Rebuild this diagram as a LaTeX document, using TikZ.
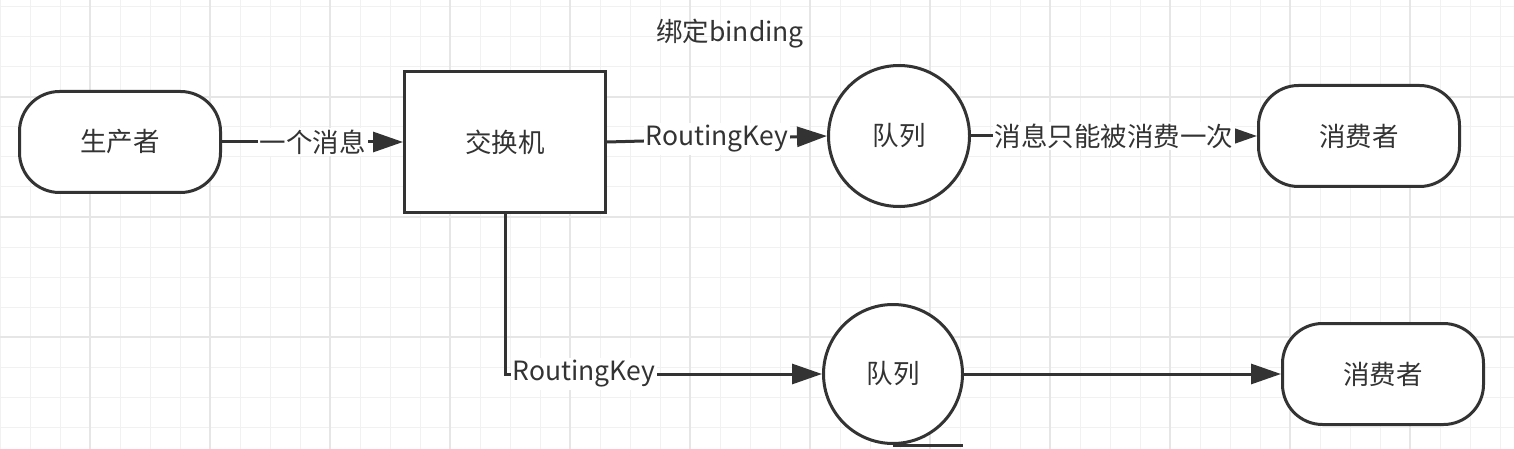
\documentclass[tikz,border=0pt]{standalone}
\usepackage{fontspec}
\setmainfont{Noto Sans CJK SC}
\usetikzlibrary{arrows.meta}
\definecolor{ink}{HTML}{333333}
\definecolor{gridminor}{HTML}{F1F1F1}
\definecolor{gridmajor}{HTML}{E6E6E6}
\begin{document}
\begin{tikzpicture}[x=1pt,y=-1pt,
  every node/.style={font=\fontsize{26.5}{31}\selectfont, text=ink},
  shapeline/.style={draw=ink, line width=3pt, fill=white},
  term/.style={shapeline, rectangle, rounded corners=40pt, minimum width=201pt, minimum height=101pt, inner sep=0pt},
  boxnode/.style={shapeline, rectangle, minimum width=201pt, minimum height=140pt, inner sep=0pt},
  queue/.style={shapeline, circle, inner sep=0pt},
  conn/.style={draw=ink, line width=3pt},
  arr/.style={conn, -{Triangle[length=30pt,width=20pt]}},
  lbl/.style={fill=white, inner sep=2pt}
]
\useasboundingbox (0,0) rectangle (1514,449);
\fill[white] (0,0) rectangle (1514,449);
% grid
\foreach \x in {0,30,...,1500} {\draw[gridminor, line width=1pt] (\x,0) -- (\x,449);}
\foreach \y in {7,37,...,447} {\draw[gridminor, line width=1pt] (0,\y) -- (1514,\y);}
\foreach \x in {90,210,...,1500} {\draw[gridmajor, line width=1.2pt] (\x,0) -- (\x,449);}
\foreach \y in {97,217,337} {\draw[gridmajor, line width=1.2pt] (0,\y) -- (1514,\y);}

\node[term] (prod) at (120,142) {生产者};
\node[boxnode] (ex) at (505,142) {交换机};
\node[queue, minimum size=141pt] (q1) at (899,136) {队列};
\node[term] (c1) at (1359,136) {消费者};
\node[queue, minimum size=139pt] (q2) at (893,374) {队列};
\node[term] (c2) at (1383,374) {消费者};
\node (bind) at (730,34) {绑定binding};

\draw[arr] (prod) -- node[lbl] {一个消息} (ex);
\draw[arr] (ex.east) -- node[lbl] {RoutingKey} (q1.west);
\draw[arr] (q1) -- node[lbl] {消息只能被消费一次} (c1);
\draw[arr] (ex.south) |- node[lbl, anchor=west, pos=0.5, xshift=4pt] {RoutingKey} (q2);
\draw[conn] (q2.south) -- ++(70,0) coordinate (tailend);
\draw[arr] (q2) -- (c2);
\end{tikzpicture}
\end{document}
